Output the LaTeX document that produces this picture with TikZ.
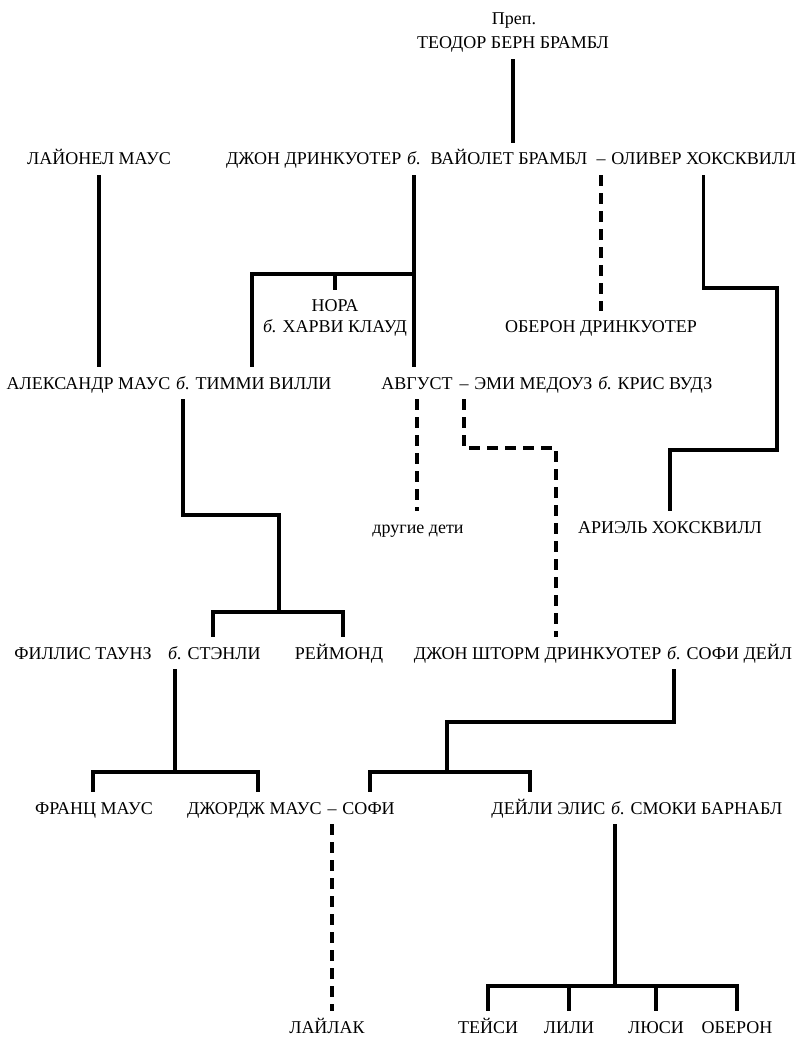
\documentclass[tikz,border=0pt]{standalone}
\usepackage{fontspec}
\setmainfont{Liberation Serif}
\usetikzlibrary{positioning}

\begin{document}
\begin{tikzpicture}[x=0.5pt,y=-0.5pt,
     person/.style={anchor=base,inner xsep=0pt,inner ysep=5pt,text height=6pt,text depth=0pt,font=\fontsize{9}{11}\selectfont},
     kin/.style={line width=1.6pt},
     affair/.style={kin,dash pattern=on 5.5pt off 3.5pt}
     ]
\useasboundingbox (0,0) rectangle (800,1037);

%Baselines of the rows
\def \ya{165}
\def \yb{389}
\def \yc{533}
\def \yd{659}
\def \ye{814}
\def \yf{1033}
%gap between words
\def \gap{2.5pt}

%The reverend at the top
\node[person] (prep) at (514,25) {Преп.};
\node[person] (teodor) at (513,49) {ТЕОДОР БЕРН БРАМБЛ};

%First row
\node[person] (lionel) at (99,\ya) {ЛАЙОНЕЛ МАУС};
\node[person] (b1) at (414,\ya) {\textit{б.}};
\node[person,left=\gap of b1] (john) {ДЖОН ДРИНКУОТЕР};
\node[person] (violet) at (509,\ya) {ВАЙОЛЕТ БРАМБЛ};
\node[person] (dash1) at (601,\ya) {--};
\node[person,right=\gap of dash1] (oliver) {ОЛИВЕР ХОКСКВИЛЛ};

%Nora and Oberon
\node[person] (nora) at (335,312) {НОРА};
\node[person] (harvey) at (335,333) {\textit{б.} ХАРВИ КЛАУД};
\node[person] (oberon) at (601,333) {ОБЕРОН ДРИНКУОТЕР};

%Second row
\node[person] (b2) at (183,\yb) {\textit{б.}};
\node[person,left=\gap of b2] (alex) {АЛЕКСАНДР МАУС};
\node[person,right=\gap of b2] (timmy) {ТИММИ ВИЛЛИ};
\node[person] (august) at (417,\yb) {АВГУСТ};
\node[person] (dash2) at (464,\yb) {--};
\node[person,right=\gap of dash2] (emmy) {ЭМИ МЕДОУЗ};
\node[person,right=\gap of emmy] (b2b) {\textit{б.}};
\node[person,right=\gap of b2b] (chris) {КРИС ВУДЗ};

\node[person] (others) at (418,\yc) {другие дети};
\node[person] (ariel) at (670,\yc) {АРИЭЛЬ ХОКСКВИЛЛ};

%Third row
\node[person] (phyllis) at (83,\yd) {ФИЛЛИС ТАУНЗ};
\node[person] (b3) at (175,\yd) {\textit{б.}};
\node[person,right=\gap of b3] (stanley) {СТЭНЛИ};
\node[person] (raymond) at (339,\yd) {РЕЙМОНД};
\node[person] (b4) at (674,\yd) {\textit{б.}};
\node[person,left=\gap of b4] (storm) {ДЖОН ШТОРМ ДРИНКУОТЕР};
\node[person,right=\gap of b4] (sophied) {СОФИ ДЕЙЛ};

%Fourth row
\node[person] (franz) at (94,\ye) {ФРАНЦ МАУС};
\node[person] (dash3) at (332,\ye) {--};
\node[person,left=\gap of dash3] (george) {ДЖОРДЖ МАУС};
\node[person,right=\gap of dash3] (sophie) {СОФИ};
\node[person] (b5) at (618,\ye) {\textit{б.}};
\node[person,left=\gap of b5] (daily) {ДЕЙЛИ ЭЛИС};
\node[person,right=\gap of b5] (smoky) {СМОКИ БАРНАБЛ};

\node[person] (lilac) at (327,\yf) {ЛАЙЛАК};

%Lines of descent
\draw[kin] (teodor.south) -- (teodor.south |- violet.north);
\draw[kin] (lionel.south) -- (lionel.south |- alex.north);

%children of John and Violet
\coordinate (jvl) at (252,274);
\draw[kin] (b1.south) -- (b1.south |- august.north);
\draw[kin] (jvl |- timmy.north) -- (jvl) -- (b1.south |- jvl);
\draw[kin] (nora.north) -- (nora.north |- jvl);
\draw[affair] (dash1.south) -- (dash1.south |- oberon.north);

%Ariel
\coordinate (hk1) at (777,288);
\coordinate (hk2) at (777,450);
\draw[kin] (oliver.south) |- (hk1) -- (hk2) -| (ariel.north);

%children of Alexander and Timmy
\coordinate (am1) at (279,515);
\coordinate (st) at (213,612);
\coordinate (rm) at (343,612);
\draw[kin] (b2.south) |- (am1) -- (am1 |- st);
\draw[kin] (st |- stanley.north) -- (st) -- (rm) -- (rm |- raymond.north);

%August and Emmy
\coordinate (ae) at (556,448);
\draw[affair] (dash2.south) |- (ae) -- (ae |- storm.north);
\draw[affair] (august.south) -- (august.south |- others.north);

%children of Stanley
\coordinate (fs1) at (93,772);
\coordinate (fs2) at (258,772);
\draw[kin] (b3.south) -- (b3.south |- fs1);
\draw[kin] (fs1 |- franz.north) -- (fs1) -- (fs2) -- (fs2 |- george.north);

%children of John Storm and Sophie Dale
\coordinate (sd1) at (447,722);
\coordinate (sd2) at (370,772);
\coordinate (sd3) at (530,772);
\draw[kin] (b4.south) |- (sd1) -- (sd1 |- sd2);
\draw[kin] (sd2 |- sophie.north) -- (sd2) -- (sd3) -- (sd3 |- daily.north);

%Lilac
\draw[affair] (dash3.south) -- (dash3.south |- lilac.north);

%children of Daily and Smoky
\coordinate (ds) at (615,986);
\draw[kin] (ds |- b5.south) -- (ds);
\foreach [count=\i] \nm/\xx in {ТЕЙСИ/488,ЛИЛИ/569,ЛЮСИ/656,ОБЕРОН/737}
{
\node[person] (kid\i) at (\xx,\yf) {\nm};
}
\draw[kin] (kid1.north) -- (kid1.north |- ds) -- (kid4.north |- ds) -- (kid4.north);
\draw[kin] (kid2.north) -- (kid2.north |- ds);
\draw[kin] (kid3.north) -- (kid3.north |- ds);
\end{tikzpicture}
\end{document}
